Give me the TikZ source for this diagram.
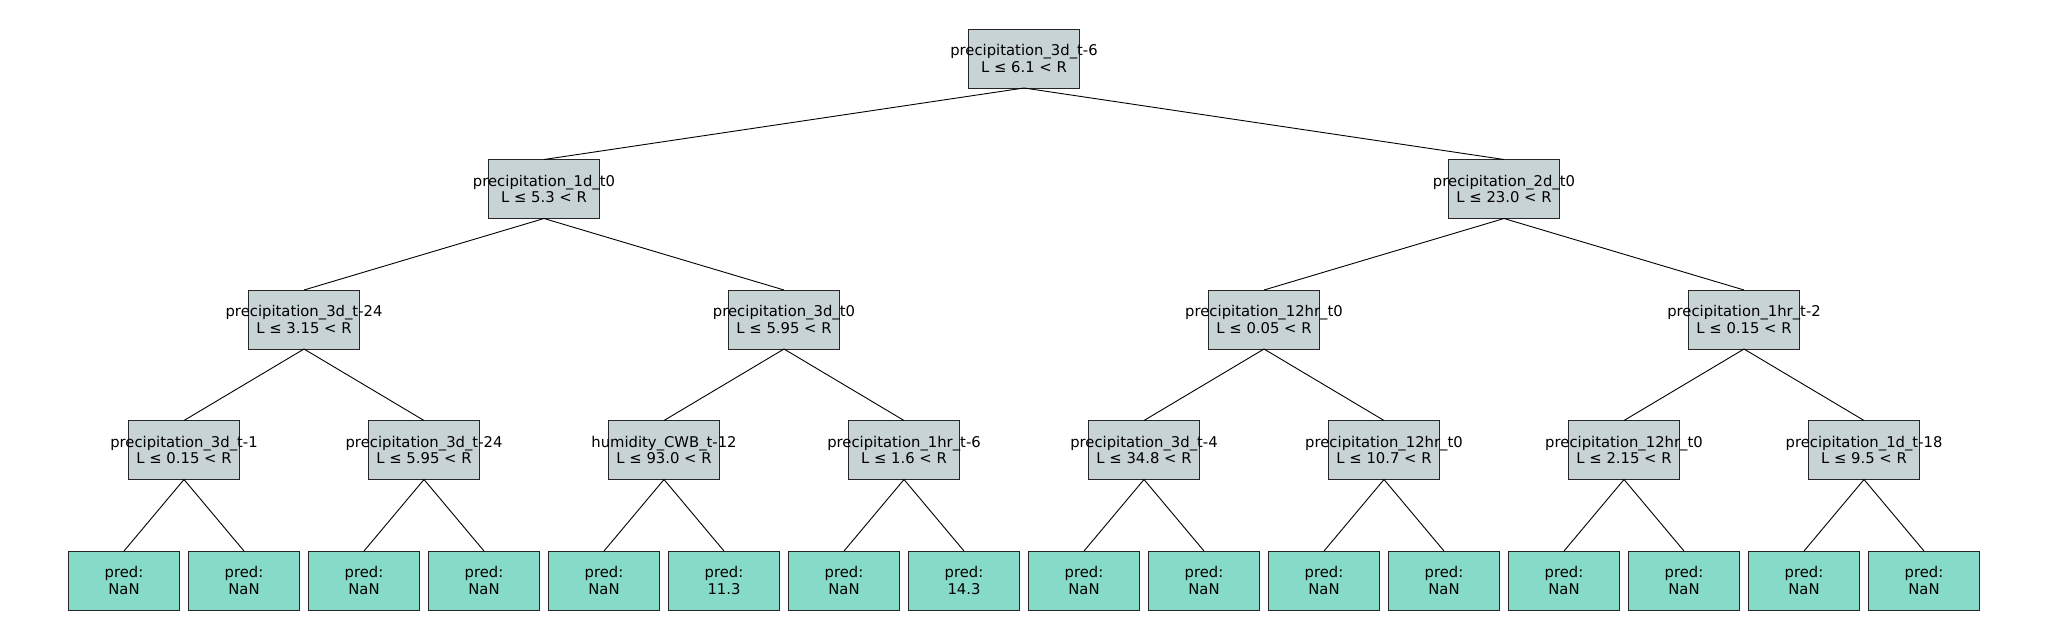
\documentclass[tikz,border=0pt]{standalone}
\usepackage{fontspec}
\setmainfont{DejaVu Sans}
\usepackage{tikz}
\usetikzlibrary{positioning}
\definecolor{splitfill}{RGB}{200,211,213}
\definecolor{leaffill}{RGB}{133,219,199}
\tikzstyle{split} = [rectangle, line width=1pt, minimum width=111pt, minimum height=59pt, inner sep=0pt, outer sep=0pt, align=center, draw=black!85, fill=splitfill, font=\fontsize{14.8}{16.2}\selectfont]
\tikzstyle{leaf} = [split, fill=leaffill]
\tikzstyle{branch} = [line width=0.9pt, draw=black]
% text may run past the box edges
\newcommand{\boxtext}[2]{\makebox[0pt]{#1}\\\makebox[0pt]{#2}}

\begin{document}
\begin{tikzpicture}[x=1pt, y=-1pt, node distance = 71.5pt]
		
		\useasboundingbox (0,0) rectangle (2048,640);
		
		% splits
		\node (Root) [split] at (1024,58.5) {\boxtext{precipitation\_3d\_t-6}{L ≤ 6.1 < R}};
		
		\node (L) [split, below = of Root, xshift=-480pt] {\boxtext{precipitation\_1d\_t0}{L ≤ 5.3 < R}};
		\node (R) [split, below = of Root, xshift=480pt] {\boxtext{precipitation\_2d\_t0}{L ≤ 23.0 < R}};
		
		\node (LL) [split, below = of L, xshift=-240pt] {\boxtext{precipitation\_3d\_t-24}{L ≤ 3.15 < R}};
		\node (LR) [split, below = of L, xshift=240pt] {\boxtext{precipitation\_3d\_t0}{L ≤ 5.95 < R}};
		\node (RL) [split, below = of R, xshift=-240pt] {\boxtext{precipitation\_12hr\_t0}{L ≤ 0.05 < R}};
		\node (RR) [split, below = of R, xshift=240pt] {\boxtext{precipitation\_1hr\_t-2}{L ≤ 0.15 < R}};
		
		\node (LLL) [split, below = of LL, xshift=-120pt] {\boxtext{precipitation\_3d\_t-1}{L ≤ 0.15 < R}};
		\node (LLR) [split, below = of LL, xshift=120pt] {\boxtext{precipitation\_3d\_t-24}{L ≤ 5.95 < R}};
		\node (LRL) [split, below = of LR, xshift=-120pt] {\boxtext{humidity\_CWB\_t-12}{L ≤ 93.0 < R}};
		\node (LRR) [split, below = of LR, xshift=120pt] {\boxtext{precipitation\_1hr\_t-6}{L ≤ 1.6 < R}};
		\node (RLL) [split, below = of RL, xshift=-120pt] {\boxtext{precipitation\_3d\_t-4}{L ≤ 34.8 < R}};
		\node (RLR) [split, below = of RL, xshift=120pt] {\boxtext{precipitation\_12hr\_t0}{L ≤ 10.7 < R}};
		\node (RRL) [split, below = of RR, xshift=-120pt] {\boxtext{precipitation\_12hr\_t0}{L ≤ 2.15 < R}};
		\node (RRR) [split, below = of RR, xshift=120pt] {\boxtext{precipitation\_1d\_t-18}{L ≤ 9.5 < R}};
		
		% leaves
		\node (LeafLLLL) [leaf, below = of LLL, xshift=-60pt] {pred:\\NaN};
		\node (LeafLLLR) [leaf, below = of LLL, xshift=60pt] {pred:\\NaN};
		\node (LeafLLRL) [leaf, below = of LLR, xshift=-60pt] {pred:\\NaN};
		\node (LeafLLRR) [leaf, below = of LLR, xshift=60pt] {pred:\\NaN};
		\node (LeafLRLL) [leaf, below = of LRL, xshift=-60pt] {pred:\\NaN};
		\node (LeafLRLR) [leaf, below = of LRL, xshift=60pt] {pred:\\11.3};
		\node (LeafLRRL) [leaf, below = of LRR, xshift=-60pt] {pred:\\NaN};
		\node (LeafLRRR) [leaf, below = of LRR, xshift=60pt] {pred:\\14.3};
		\node (LeafRLLL) [leaf, below = of RLL, xshift=-60pt] {pred:\\NaN};
		\node (LeafRLLR) [leaf, below = of RLL, xshift=60pt] {pred:\\NaN};
		\node (LeafRLRL) [leaf, below = of RLR, xshift=-60pt] {pred:\\NaN};
		\node (LeafRLRR) [leaf, below = of RLR, xshift=60pt] {pred:\\NaN};
		\node (LeafRRLL) [leaf, below = of RRL, xshift=-60pt] {pred:\\NaN};
		\node (LeafRRLR) [leaf, below = of RRL, xshift=60pt] {pred:\\NaN};
		\node (LeafRRRL) [leaf, below = of RRR, xshift=-60pt] {pred:\\NaN};
		\node (LeafRRRR) [leaf, below = of RRR, xshift=60pt] {pred:\\NaN};
		
		% branches
		\draw [branch] (Root.south) -- (L.north);
		\draw [branch] (Root.south) -- (R.north);
		
		\draw [branch] (L.south) -- (LL.north);
		\draw [branch] (L.south) -- (LR.north);
		\draw [branch] (R.south) -- (RL.north);
		\draw [branch] (R.south) -- (RR.north);
		
		\draw [branch] (LL.south) -- (LLL.north);
		\draw [branch] (LL.south) -- (LLR.north);
		\draw [branch] (LR.south) -- (LRL.north);
		\draw [branch] (LR.south) -- (LRR.north);
		\draw [branch] (RL.south) -- (RLL.north);
		\draw [branch] (RL.south) -- (RLR.north);
		\draw [branch] (RR.south) -- (RRL.north);
		\draw [branch] (RR.south) -- (RRR.north);
		
		\draw [branch] (LLL.south) -- (LeafLLLL.north);
		\draw [branch] (LLL.south) -- (LeafLLLR.north);
		\draw [branch] (LLR.south) -- (LeafLLRL.north);
		\draw [branch] (LLR.south) -- (LeafLLRR.north);
		\draw [branch] (LRL.south) -- (LeafLRLL.north);
		\draw [branch] (LRL.south) -- (LeafLRLR.north);
		\draw [branch] (LRR.south) -- (LeafLRRL.north);
		\draw [branch] (LRR.south) -- (LeafLRRR.north);
		\draw [branch] (RLL.south) -- (LeafRLLL.north);
		\draw [branch] (RLL.south) -- (LeafRLLR.north);
		\draw [branch] (RLR.south) -- (LeafRLRL.north);
		\draw [branch] (RLR.south) -- (LeafRLRR.north);
		\draw [branch] (RRL.south) -- (LeafRRLL.north);
		\draw [branch] (RRL.south) -- (LeafRRLR.north);
		\draw [branch] (RRR.south) -- (LeafRRRL.north);
		\draw [branch] (RRR.south) -- (LeafRRRR.north);
		
\end{tikzpicture}
\end{document}
